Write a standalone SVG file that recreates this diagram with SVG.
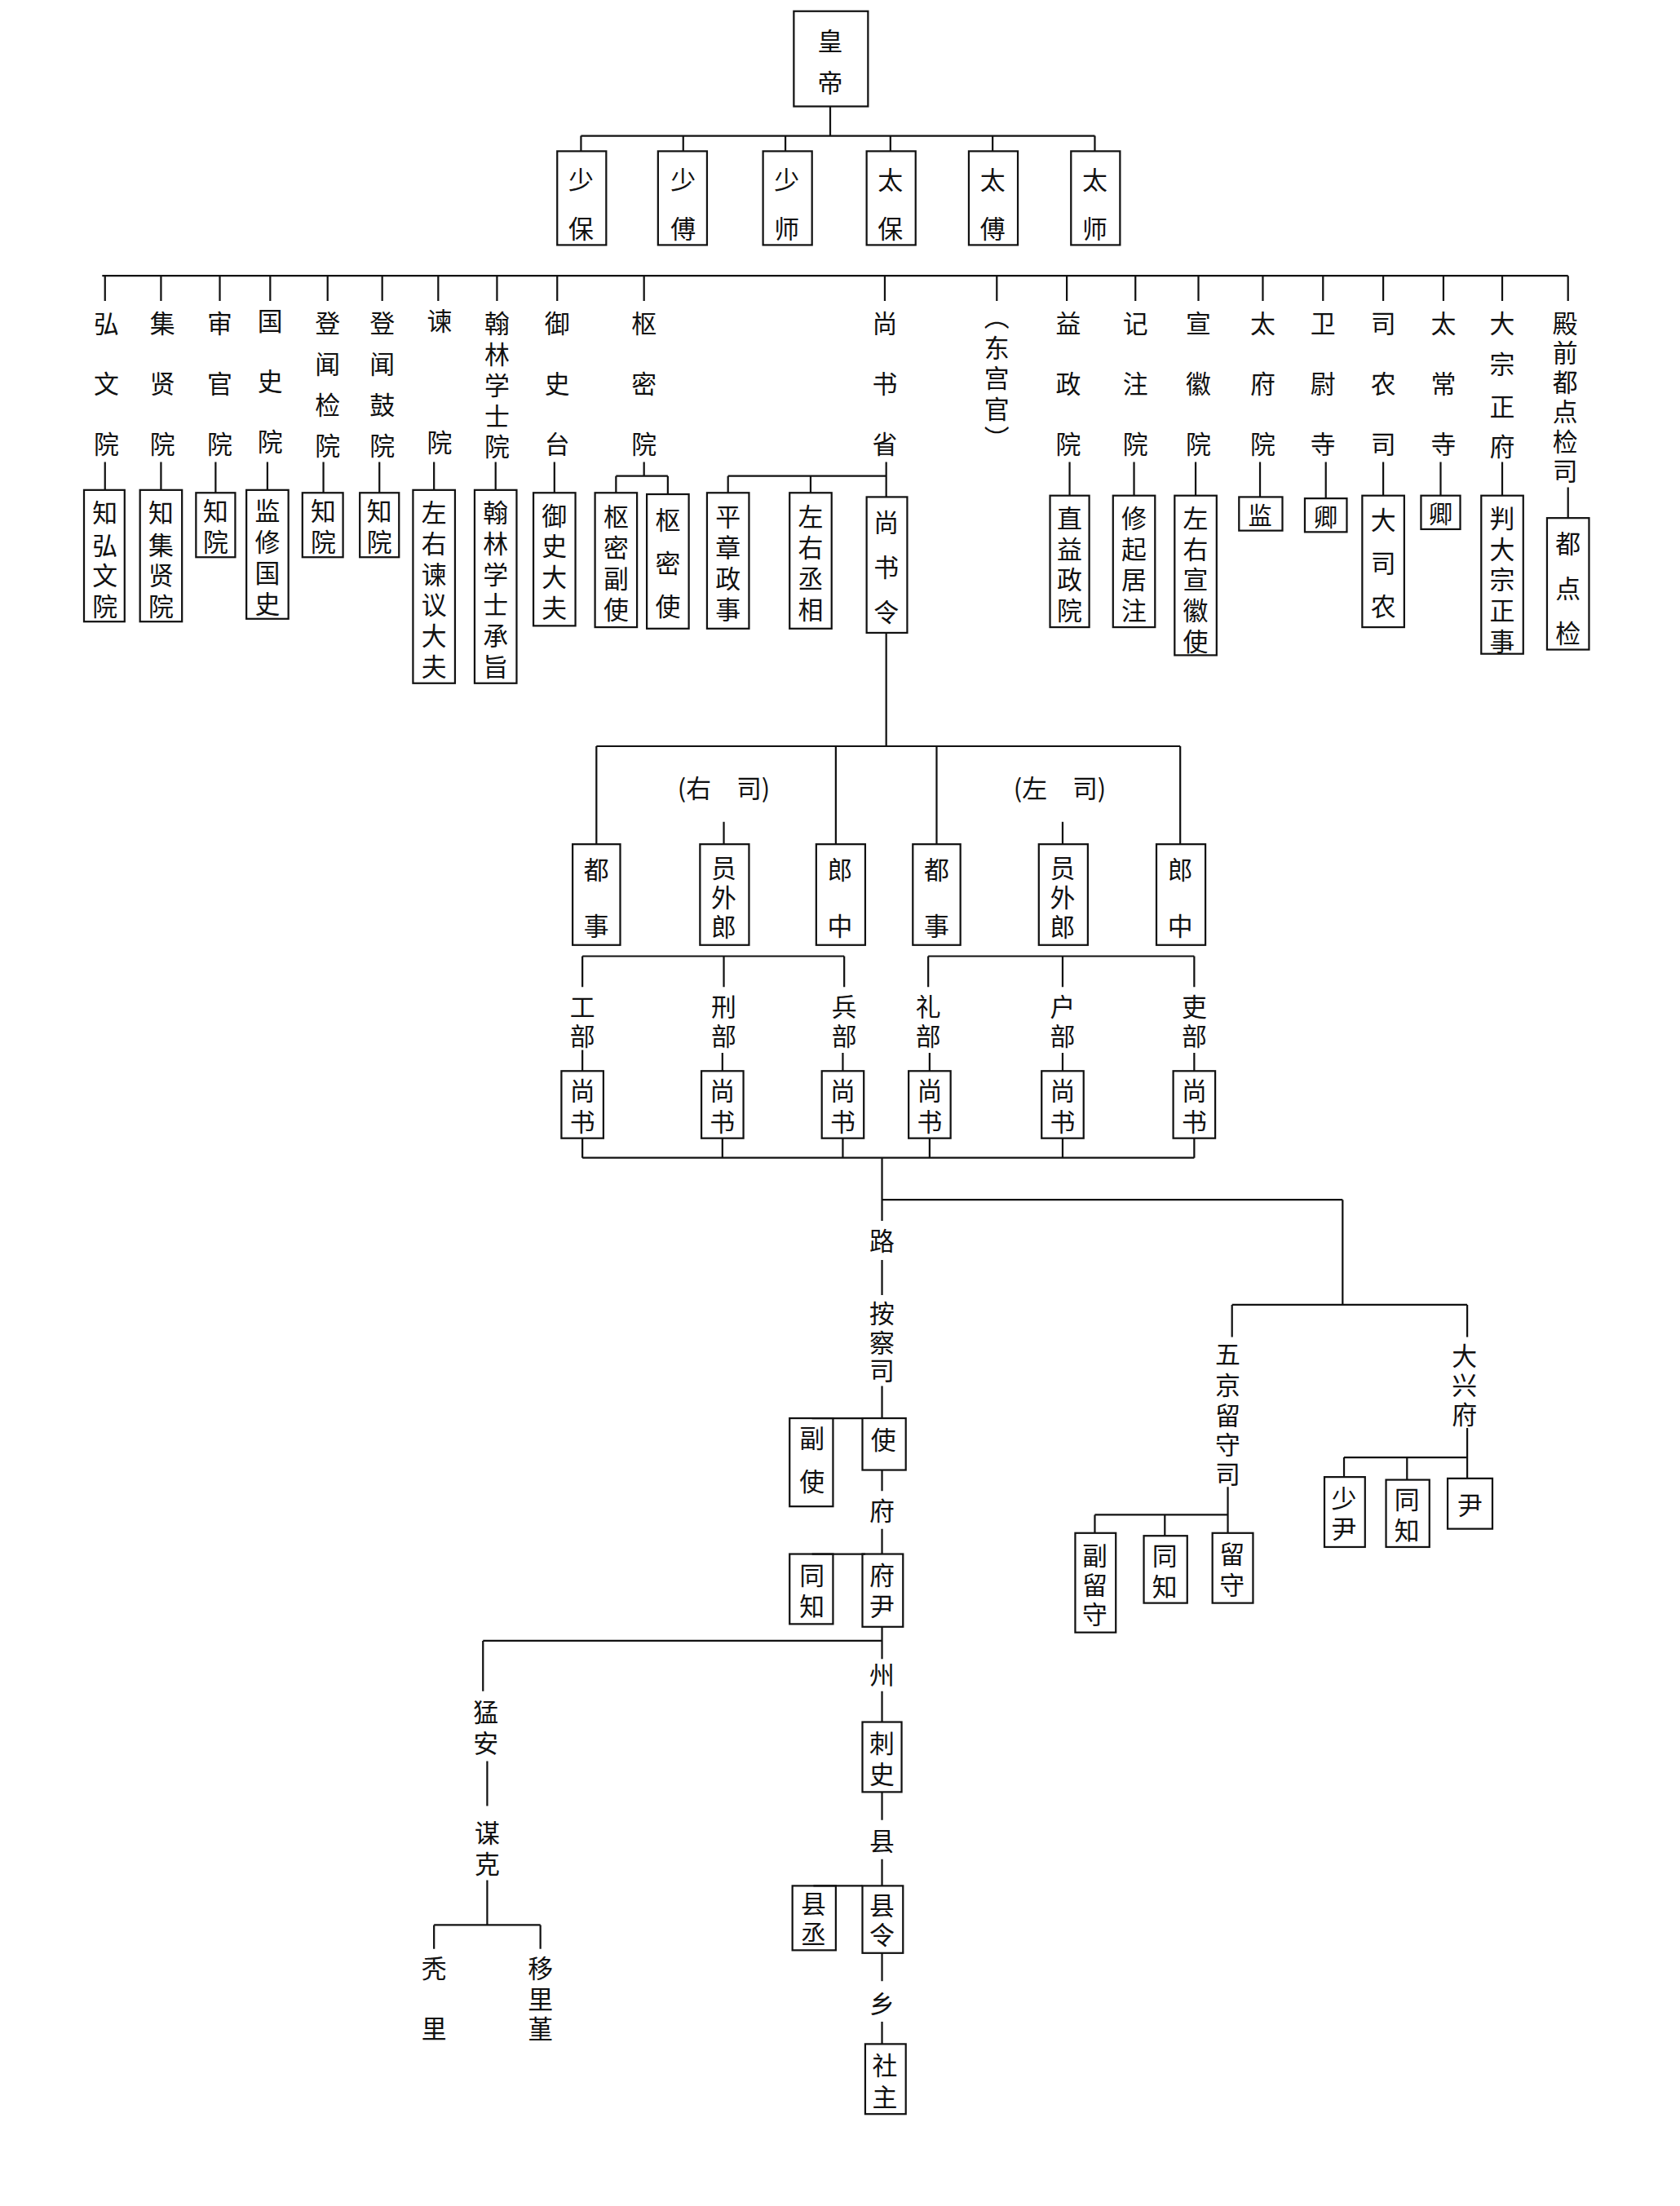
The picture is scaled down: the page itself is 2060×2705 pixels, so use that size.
<svg xmlns="http://www.w3.org/2000/svg" width="2060" height="2705" viewBox="0 0 2060 2705">
<style>
rect{fill:none;stroke:#111;stroke-width:1.3}
#c path{fill:none;stroke:#111;stroke-width:1.3}
text{font-family:"Noto Sans CJK SC","Noto Sans CJK JP",sans-serif;font-size:18px;fill:#111;text-anchor:middle;dominant-baseline:central}
.s{font-size:17px}
</style>
<rect x="0" y="0" width="2060" height="2705" style="fill:#fff;stroke:none"/>
<g transform="scale(1.7167)">
<g id="c">
<path d="M593 76V97M415 97H782M415 97V108M488 97V108M561 97V108M636 97V108M709 97V108M782 97V108"/>
<path d="M73 197H1120M75 197V215M115 197V215M157 197V215M193 197V215M234 197V215M273 197V215M313 197V215M355 197V215M398 197V215M460 197V215M632 197V215M712 197V215M762 197V215M811 197V215M856 197V215M902 197V215M945 197V215M988 197V215M1031 197V215M1073 197V215M1120 197V215"/>
<path d="M75 330V350M115 330V350M154 330V352M191 330V350M231 330V352M271 330V352M310 330V350M354 330V350M396 330V352M460 330V340M440 340H477M440 340V352M477 340V353M633 330V355M520 340H633M520 340V352M579 340V352M764 330V354M810 330V354M854 330V354M900 330V355M947 330V356M988 330V354M1029 330V354M1073 330V354M1120 348V370"/>
<path d="M633 452V533M426 533H843M426 533V603M597 533V603M669 533V603M843 533V603M517 587V603M759 587V603"/>
<path d="M416 683H603M416 683V705M517 683V705M603 683V705M663 683H853M663 683V705M759 683V705M853 683V705M416 750V765M516 752V765M602 752V765M664 752V765M759 752V765M853 752V765"/>
<path d="M416 813V827M516 813V827M602 813V827M664 813V827M759 813V827M853 813V827M416 827H853M630 827V872M630 857H959M959 857V932M880 932H1048M880 932V955M1048 932V955"/>
<path d="M630 900V925M630 990V1013M580 1013H616M630 1050V1065M630 1092V1110M580 1110H618M630 1162V1185M345 1172H630M345 1172V1208M630 1208V1230M630 1280V1300M630 1328V1347M581 1347H616M630 1395V1415M630 1444V1460"/>
<path d="M348 1258V1290M348 1343V1375M310 1375H386M310 1375V1392M386 1375V1392"/>
<path d="M877 1062V1082M782 1082H877M782 1082V1095M832 1082V1097M877 1082V1095M1048 1020V1041M960 1041H1048M960 1041V1055M1005 1041V1057M1048 1041V1056"/>
</g>
<g id="n-huangdi"><rect x="567" y="8" width="53" height="68"/><text x="593" y="28">皇</text><text x="593" y="58">帝</text></g>
<g id="n-shaobao"><rect x="398" y="108" width="35" height="67"/><text x="415" y="127">少</text><text x="415" y="162">保</text></g>
<g id="n-shaofu"><rect x="470" y="108" width="35" height="67"/><text x="488" y="127">少</text><text x="488" y="162">傅</text></g>
<g id="n-shaoshi"><rect x="545" y="108" width="35" height="67"/><text x="562" y="127">少</text><text x="562" y="162">师</text></g>
<g id="n-taibao"><rect x="619" y="108" width="35" height="67"/><text x="636" y="127">太</text><text x="636" y="162">保</text></g>
<g id="n-taifu"><rect x="692" y="108" width="35" height="67"/><text x="709" y="127">太</text><text x="709" y="162">傅</text></g>
<g id="n-taishi"><rect x="765" y="108" width="35" height="67"/><text x="782" y="127">太</text><text x="782" y="162">师</text></g>

<g id="l-hongwen"><text x="76" y="230">弘</text><text x="76" y="273">文</text><text x="76" y="316">院</text></g>
<g id="l-jixian"><text x="116" y="230">集</text><text x="116" y="273">贤</text><text x="116" y="316">院</text></g>
<g id="l-shenguan"><text x="157" y="230">审</text><text x="157" y="273">官</text><text x="157" y="316">院</text></g>
<g id="l-guoshi"><text x="193" y="228">国</text><text x="193" y="271">史</text><text x="193" y="314">院</text></g>
<g id="l-dengwenjian"><text x="234" y="230">登</text><text x="234" y="259">闻</text><text x="234" y="288">检</text><text x="234" y="317">院</text></g>
<g id="l-dengwengu"><text x="273" y="230">登</text><text x="273" y="259">闻</text><text x="273" y="288">鼓</text><text x="273" y="317">院</text></g>
<g id="l-jian"><text x="314" y="228">谏</text><text x="314" y="315">院</text></g>
<g id="l-hanlin"><text x="355" y="230">翰</text><text x="355" y="252">林</text><text x="355" y="274">学</text><text x="355" y="296">士</text><text x="355" y="318">院</text></g>
<g id="l-yushi"><text x="398" y="230">御</text><text x="398" y="273">史</text><text x="398" y="316">台</text></g>
<g id="l-shumi"><text x="460" y="230">枢</text><text x="460" y="273">密</text><text x="460" y="316">院</text></g>
<g id="l-shangshu"><text x="632" y="230">尚</text><text x="632" y="273">书</text><text x="632" y="316">省</text></g>
<g id="l-donggong"><text x="712" y="225">︵</text><text x="712" y="247">东</text><text x="712" y="269">宫</text><text x="712" y="291">官</text><text x="712" y="312">︶</text></g>
<g id="l-yizheng"><text x="763" y="230">益</text><text x="763" y="273">政</text><text x="763" y="316">院</text></g>
<g id="l-jizhu"><text x="811" y="230">记</text><text x="811" y="273">注</text><text x="811" y="316">院</text></g>
<g id="l-xuanhui"><text x="856" y="230">宣</text><text x="856" y="273">徽</text><text x="856" y="316">院</text></g>
<g id="l-taifu2"><text x="902" y="230">太</text><text x="902" y="273">府</text><text x="902" y="316">院</text></g>
<g id="l-weiwei"><text x="945" y="230">卫</text><text x="945" y="273">尉</text><text x="945" y="316">寺</text></g>
<g id="l-sinong"><text x="988" y="230">司</text><text x="988" y="273">农</text><text x="988" y="316">司</text></g>
<g id="l-taichang"><text x="1031" y="230">太</text><text x="1031" y="273">常</text><text x="1031" y="316">寺</text></g>
<g id="l-dazong"><text x="1073" y="230">大</text><text x="1073" y="259">宗</text><text x="1073" y="289">正</text><text x="1073" y="318">府</text></g>
<g id="l-dianqian"><text x="1118" y="230">殿</text><text x="1118" y="251">前</text><text x="1118" y="272">都</text><text x="1118" y="293">点</text><text x="1118" y="314">检</text><text x="1118" y="335">司</text></g>

<g id="b1"><rect x="60" y="350" width="29" height="94"/><text x="75" y="365">知</text><text x="75" y="388">弘</text><text x="75" y="410">文</text><text x="75" y="432">院</text></g>
<g id="b2"><rect x="100" y="350" width="30" height="94"/><text x="115" y="365">知</text><text x="115" y="388">集</text><text x="115" y="410">贤</text><text x="115" y="432">院</text></g>
<g id="b3"><rect x="140" y="352" width="28" height="46"/><text x="154" y="364">知</text><text x="154" y="386">院</text></g>
<g id="b4"><rect x="176" y="350" width="30" height="92"/><text x="191" y="364">监</text><text x="191" y="386">修</text><text x="191" y="408">国</text><text x="191" y="430">史</text></g>
<g id="b5"><rect x="216" y="352" width="29" height="46"/><text x="231" y="364">知</text><text x="231" y="386">院</text></g>
<g id="b6"><rect x="257" y="352" width="28" height="46"/><text x="271" y="364">知</text><text x="271" y="386">院</text></g>
<g id="b7"><rect x="295" y="350" width="30" height="138"/><text x="310" y="365">左</text><text x="310" y="387">右</text><text x="310" y="409">谏</text><text x="310" y="431">议</text><text x="310" y="453">大</text><text x="310" y="475">夫</text></g>
<g id="b8"><rect x="339" y="350" width="30" height="138"/><text x="354" y="365">翰</text><text x="354" y="387">林</text><text x="354" y="409">学</text><text x="354" y="431">士</text><text x="354" y="453">承</text><text x="354" y="475">旨</text></g>
<g id="b9"><rect x="381" y="352" width="30" height="95"/><text x="396" y="367">御</text><text x="396" y="389">史</text><text x="396" y="411">大</text><text x="396" y="433">夫</text></g>
<g id="b10"><rect x="425" y="352" width="30" height="96"/><text x="440" y="368">枢</text><text x="440" y="390">密</text><text x="440" y="412">副</text><text x="440" y="434">使</text></g>
<g id="b11"><rect x="462" y="353" width="30" height="96"/><text x="477" y="370">枢</text><text x="477" y="401">密</text><text x="477" y="432">使</text></g>
<g id="b12"><rect x="505" y="352" width="30" height="97"/><text x="520" y="368">平</text><text x="520" y="390">章</text><text x="520" y="412">政</text><text x="520" y="434">事</text></g>
<g id="b13"><rect x="564" y="352" width="30" height="97"/><text x="579" y="368">左</text><text x="579" y="390">右</text><text x="579" y="412">丞</text><text x="579" y="434">相</text></g>
<g id="b14"><rect x="619" y="355" width="29" height="97"/><text x="633" y="372">尚</text><text x="633" y="404">书</text><text x="633" y="436">令</text></g>
<g id="b15"><rect x="750" y="354" width="28" height="94"/><text x="764" y="369">直</text><text x="764" y="391">益</text><text x="764" y="413">政</text><text x="764" y="435">院</text></g>
<g id="b16"><rect x="795" y="354" width="30" height="94"/><text x="810" y="369">修</text><text x="810" y="391">起</text><text x="810" y="413">居</text><text x="810" y="435">注</text></g>
<g id="b17"><rect x="839" y="354" width="30" height="114"/><text x="854" y="369">左</text><text x="854" y="391">右</text><text x="854" y="413">宣</text><text x="854" y="435">徽</text><text x="854" y="457">使</text></g>
<g id="b18"><rect x="885" y="355" width="31" height="24"/><text class="s" x="900" y="367">监</text></g>
<g id="b19"><rect x="932" y="356" width="30" height="24"/><text class="s" x="947" y="368">卿</text></g>
<g id="b20"><rect x="973" y="354" width="30" height="94"/><text x="988" y="370">大</text><text x="988" y="401">司</text><text x="988" y="432">农</text></g>
<g id="b21"><rect x="1015" y="354" width="28" height="24"/><text class="s" x="1029" y="366">卿</text></g>
<g id="b22"><rect x="1058" y="354" width="30" height="113"/><text x="1073" y="369">判</text><text x="1073" y="391">大</text><text x="1073" y="413">宗</text><text x="1073" y="435">正</text><text x="1073" y="457">事</text></g>
<g id="b23"><rect x="1105" y="370" width="30" height="94"/><text x="1120" y="387">都</text><text x="1120" y="419">点</text><text x="1120" y="451">检</text></g>

<g id="l-yousi"><text x="517" y="562">(右　司)</text></g>
<g id="l-zuosi"><text x="757" y="562">(左　司)</text></g>
<g id="m1"><rect x="409" y="603" width="34" height="72"/><text x="426" y="620">都</text><text x="426" y="660">事</text></g>
<g id="m2"><rect x="500" y="603" width="35" height="72"/><text x="517" y="619">员</text><text x="517" y="640">外</text><text x="517" y="661">郎</text></g>
<g id="m3"><rect x="583" y="603" width="35" height="72"/><text x="600" y="620">郎</text><text x="600" y="660">中</text></g>
<g id="m4"><rect x="652" y="603" width="34" height="72"/><text x="669" y="620">都</text><text x="669" y="660">事</text></g>
<g id="m5"><rect x="742" y="603" width="35" height="72"/><text x="759" y="619">员</text><text x="759" y="640">外</text><text x="759" y="661">郎</text></g>
<g id="m6"><rect x="826" y="603" width="35" height="72"/><text x="843" y="620">郎</text><text x="843" y="660">中</text></g>

<g id="l-gong"><text x="416" y="718">工</text><text x="416" y="739">部</text></g>
<g id="l-xing"><text x="517" y="718">刑</text><text x="517" y="739">部</text></g>
<g id="l-bing"><text x="603" y="718">兵</text><text x="603" y="739">部</text></g>
<g id="l-li"><text x="663" y="718">礼</text><text x="663" y="739">部</text></g>
<g id="l-hu"><text x="759" y="718">户</text><text x="759" y="739">部</text></g>
<g id="l-li2"><text x="853" y="718">吏</text><text x="853" y="739">部</text></g>
<g id="s1"><rect x="401" y="765" width="30" height="48"/><text x="416" y="778">尚</text><text x="416" y="800">书</text></g>
<g id="s2"><rect x="501" y="765" width="30" height="48"/><text x="516" y="778">尚</text><text x="516" y="800">书</text></g>
<g id="s3"><rect x="587" y="765" width="30" height="48"/><text x="602" y="778">尚</text><text x="602" y="800">书</text></g>
<g id="s4"><rect x="649" y="765" width="30" height="48"/><text x="664" y="778">尚</text><text x="664" y="800">书</text></g>
<g id="s5"><rect x="744" y="765" width="30" height="48"/><text x="759" y="778">尚</text><text x="759" y="800">书</text></g>
<g id="s6"><rect x="838" y="765" width="30" height="48"/><text x="853" y="778">尚</text><text x="853" y="800">书</text></g>

<g id="l-lu"><text x="630" y="885">路</text></g>
<g id="l-ancha"><text x="630" y="937">按</text><text x="630" y="958">察</text><text x="630" y="978">司</text></g>
<g id="r-shi"><rect x="616" y="1013" width="31" height="37"/><text x="631" y="1027">使</text></g>
<g id="r-fushi"><rect x="564" y="1013" width="31" height="63"/><text x="580" y="1026">副</text><text x="580" y="1057">使</text></g>
<g id="l-fu"><text x="630" y="1078">府</text></g>
<g id="r-fuyin"><rect x="616" y="1110" width="29" height="52"/><text x="630" y="1124">府</text><text x="630" y="1146">尹</text></g>
<g id="r-tongzhi"><rect x="564" y="1110" width="31" height="50"/><text x="580" y="1124">同</text><text x="580" y="1146">知</text></g>
<g id="l-zhou"><text x="630" y="1195">州</text></g>
<g id="r-cishi"><rect x="616" y="1230" width="28" height="50"/><text x="630" y="1244">刺</text><text x="630" y="1266">史</text></g>
<g id="l-xian"><text x="630" y="1314">县</text></g>
<g id="r-xianling"><rect x="616" y="1347" width="29" height="48"/><text x="630" y="1360">县</text><text x="630" y="1381">令</text></g>
<g id="r-xiancheng"><rect x="566" y="1347" width="31" height="46"/><text x="581" y="1359">县</text><text x="581" y="1380">丞</text></g>
<g id="l-xiang"><text x="630" y="1430">乡</text></g>
<g id="r-shezhu"><rect x="618" y="1460" width="29" height="50"/><text x="632" y="1474">社</text><text x="632" y="1497">主</text></g>

<g id="l-mengan"><text x="347" y="1222">猛</text><text x="347" y="1244">安</text></g>
<g id="l-mouke"><text x="348" y="1308">谋</text><text x="348" y="1330">克</text></g>
<g id="l-tuli"><text x="310" y="1405">秃</text><text x="310" y="1448">里</text></g>
<g id="l-yilijin"><text x="386" y="1405">移</text><text x="386" y="1427">里</text><text x="386" y="1448">堇</text></g>

<g id="l-wujing"><text x="877" y="966">五</text><text x="877" y="988">京</text><text x="877" y="1010">留</text><text x="877" y="1031">守</text><text x="877" y="1052">司</text></g>
<g id="w1"><rect x="768" y="1095" width="29" height="71"/><text x="782" y="1110">副</text><text x="782" y="1131">留</text><text x="782" y="1152">守</text></g>
<g id="w2"><rect x="817" y="1097" width="31" height="48"/><text x="832" y="1110">同</text><text x="832" y="1132">知</text></g>
<g id="w3"><rect x="866" y="1095" width="29" height="50"/><text x="880" y="1109">留</text><text x="880" y="1131">守</text></g>
<g id="l-daxing"><text x="1046" y="967">大</text><text x="1046" y="988">兴</text><text x="1046" y="1009">府</text></g>
<g id="d1"><rect x="946" y="1055" width="29" height="50"/><text x="960" y="1069">少</text><text x="960" y="1091">尹</text></g>
<g id="d2"><rect x="990" y="1057" width="31" height="48"/><text x="1005" y="1070">同</text><text x="1005" y="1092">知</text></g>
<g id="d3"><rect x="1034" y="1056" width="32" height="36"/><text x="1050" y="1074">尹</text></g>
</g>
</svg>
